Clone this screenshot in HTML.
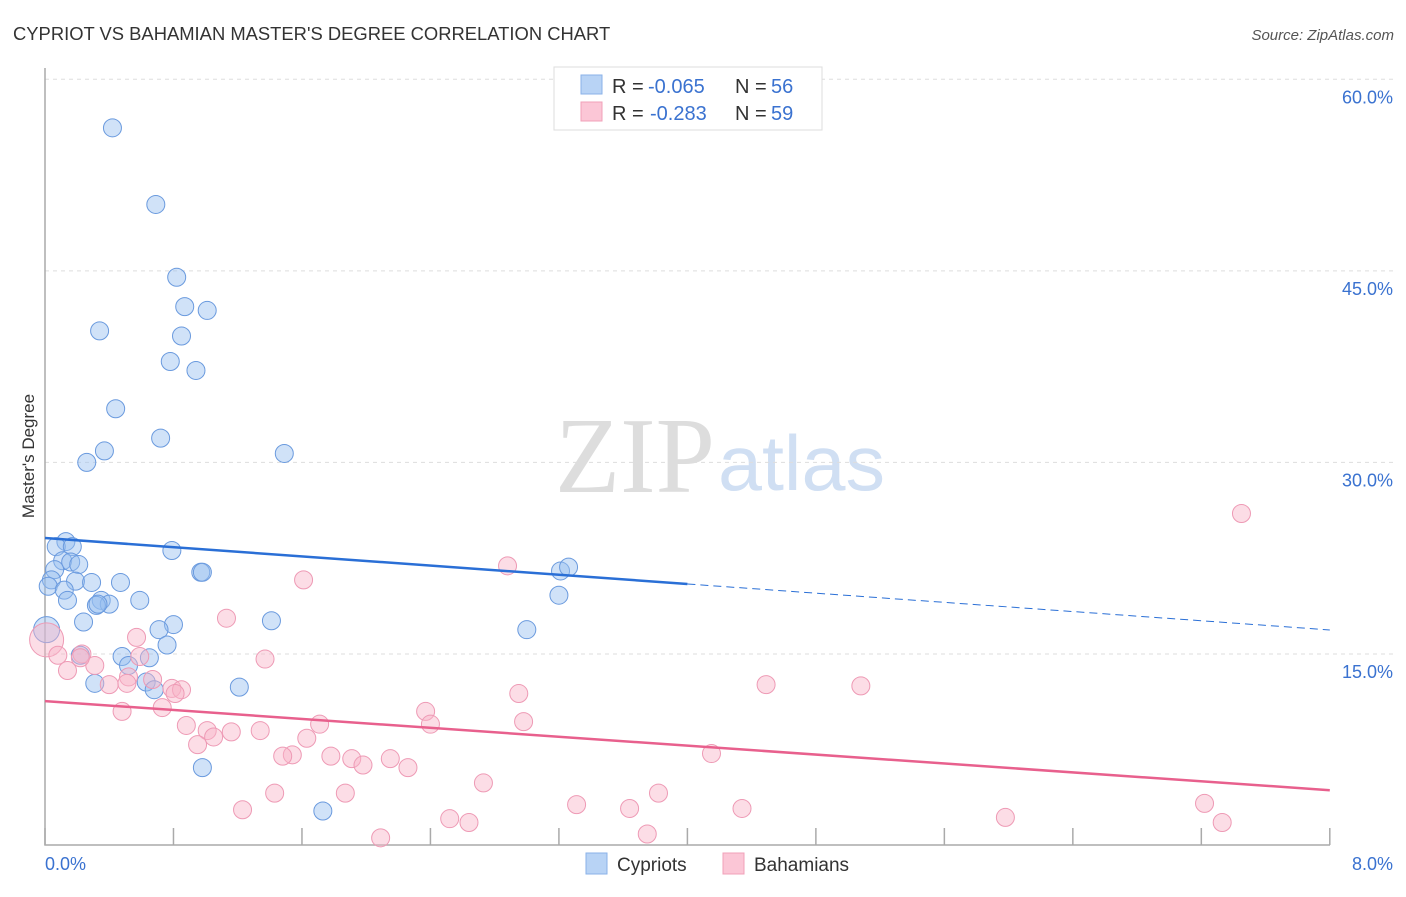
<!DOCTYPE html>
<html><head><meta charset="utf-8"><style>
body{margin:0;background:#fff;font-family:"Liberation Sans",sans-serif}
</style></head><body>
<svg id="c" width="1406" height="892" xmlns="http://www.w3.org/2000/svg">
<text x="13" y="40" font-size="18.4" fill="#333">CYPRIOT VS BAHAMIAN MASTER'S DEGREE CORRELATION CHART</text>
<text x="1394" y="40" font-size="15" fill="#555" font-style="italic" text-anchor="end">Source: ZipAtlas.com</text>
<text x="555" y="492" font-size="108" fill="#ddd" textLength="160" lengthAdjust="spacingAndGlyphs" font-family="Liberation Serif">ZIP</text>
<text x="718" y="490" font-size="78" fill="#d0dff3" textLength="167" lengthAdjust="spacingAndGlyphs">atlas</text>
<text transform="translate(34,456) rotate(-90)" font-size="17" fill="#333" text-anchor="middle">Master's Degree</text>
<g id="grid"></g><g id="pts"></g><g id="lines"></g>
<g>
<rect x="554" y="67" width="268" height="63" fill="#fff" stroke="#ddd"/>
<rect x="581" y="75" width="21" height="19" fill="#b8d3f5" stroke="#8ab2e8"/>
<rect x="581" y="102" width="21" height="19" fill="#fbc6d6" stroke="#f0a0b8"/>
<text x="612" y="93" font-size="20" fill="#333">R =</text>
<text x="648" y="93" font-size="20" fill="#3a72d0">-0.065</text>
<text x="735" y="93" font-size="20" fill="#333">N =</text>
<text x="771" y="93" font-size="20" fill="#3a72d0">56</text>
<text x="612" y="120" font-size="20" fill="#333">R =</text>
<text x="650" y="120" font-size="20" fill="#3a72d0">-0.283</text>
<text x="735" y="120" font-size="20" fill="#333">N =</text>
<text x="771" y="120" font-size="20" fill="#3a72d0">59</text>
</g>
<g>
<rect x="586" y="853" width="21" height="21" fill="#b8d3f5" stroke="#8ab2e8"/>
<text x="617" y="871" font-size="19" fill="#333">Cypriots</text>
<rect x="723" y="853" width="21" height="21" fill="#fbc6d6" stroke="#f0a0b8"/>
<text x="754" y="871" font-size="19" fill="#333">Bahamians</text>
</g>
</svg>
<script>
const xTicks=[0,0.8,1.6,2.4,3.2,4.0,4.8,5.6,6.4,7.2,8.0];
const yTicks=[15,30,45,60];
const yTickLabels=["15.0%","30.0%","45.0%","60.0%"];
const xAxisLabels=["0.0%","8.0%"];
const blueX=[.42,.69,.82,.87,1.01,.34,.85,.78,.94,.44,.72,.37,.26,1.49,.13,.07,.17,.79,.11,.16,.21,.06,.97,.98,.04,.19,.29,.47,.02,.12,.14,.35,.40,.32,.59,3.21,3.26,3.20,1.41,.01,.24,.80,.71,3.00,.76,.48,.65,.22,.52,.63,.31,.68,1.21,.98,1.73,.33];
const blueY=[56.2,50.2,44.5,42.2,41.9,40.3,39.9,37.9,37.2,34.2,31.9,30.9,30.0,30.7,23.8,23.4,23.4,23.1,22.3,22.2,22.0,21.6,21.4,21.4,20.8,20.7,20.6,20.6,20.3,20.0,19.2,19.2,18.9,18.8,19.2,21.5,21.8,19.6,17.6,16.9,17.5,17.3,16.9,16.9,15.7,14.8,14.7,14.9,14.1,12.8,12.7,12.2,12.4,6.1,2.7,18.9];
const pinkX=[7.45,2.88,1.61,1.13,.57,.01,.08,.23,.31,.14,1.37,4.49,5.08,2.95,.52,.67,.40,.79,.85,.48,.73,2.37,2.40,2.98,1.71,.88,1.01,1.16,1.05,1.34,1.63,.95,1.54,1.48,1.78,1.91,1.98,2.15,2.26,4.15,2.73,1.43,1.87,3.82,3.31,3.64,4.34,7.22,1.23,2.52,2.64,5.98,7.33,3.75,2.09,.51,.59,.81,.22];
const pinkY=[26.0,21.9,20.8,17.8,16.3,16.1,14.9,15.0,14.1,13.7,14.6,12.6,12.5,11.9,13.2,13.0,12.6,12.3,12.2,10.5,10.8,10.5,9.5,9.7,9.5,9.4,9.0,8.9,8.5,9.0,8.4,7.9,7.1,7.0,7.0,6.8,6.3,6.8,6.1,7.2,4.9,4.1,4.1,4.1,3.2,2.9,2.9,3.3,2.8,2.1,1.8,2.2,1.8,0.9,0.6,12.7,14.8,11.9,14.7];
const blueTrend=[24.08,16.88], blueSolidEnd=4.0;
const pinkTrend=[11.31,4.33];
const X=v=>45+v*160.6, Y=v=>845.5-v*12.77;
const NS="http://www.w3.org/2000/svg";
function mk(p,tag,at){const e=document.createElementNS(NS,tag);for(const k in at)e.setAttribute(k,at[k]);p.appendChild(e);return e;}
const grid=document.getElementById('grid');
yTicks.forEach((t,i)=>{
 const l=mk(grid,'line',{x1:45,x2:1395,y1:Y(t),y2:Y(t),stroke:'#ddd','stroke-dasharray':'4,4'});
 
 
 const tx=mk(grid,'text',{x:1393,y:Y(t)+24,'font-size':18,fill:'#3a72d0','text-anchor':'end'});
 tx.textContent=yTickLabels[i];
 
 
});
const ax=mk(grid,'path',{d:`M45,68V845H1330`,stroke:'#aaa',fill:'none','stroke-width':1.5});


xTicks.forEach(t=>{
 const l=mk(grid,'line',{x1:X(t),x2:X(t),y1:828,y2:845,stroke:'#aaa','stroke-width':1.5});
 
 
});
[[0,'start',45],[8,'end',1393]].forEach((d,i)=>{
 const tx=mk(grid,'text',{x:d[2],y:870,'font-size':18,fill:'#3a72d0','text-anchor':d[1]});
 tx.textContent=xAxisLabels[i];
 
 
});
const pts=document.getElementById('pts');
blueX.forEach((x,i)=>{
 const c=mk(pts,'circle',{cx:X(x),cy:Y(blueY[i]),r:x<0.02?13:9,fill:'rgba(150,190,240,0.45)',stroke:'#6a9ade','stroke-width':1});
 
 
});
pinkX.forEach((x,i)=>{
 const c=mk(pts,'circle',{cx:X(x),cy:Y(pinkY[i]),r:x<0.02?17:9,fill:'rgba(248,180,200,0.45)',stroke:'#ee9ab5','stroke-width':1});
 
 
});
const lines=document.getElementById('lines');
const bm=blueTrend[0]+(blueTrend[1]-blueTrend[0])*blueSolidEnd/8;
let l=mk(lines,'line',{x1:X(0),y1:Y(blueTrend[0]),x2:X(blueSolidEnd),y2:Y(bm),stroke:'#2a6fd6','stroke-width':2.5});


l=mk(lines,'line',{x1:X(blueSolidEnd),y1:Y(bm),x2:X(8),y2:Y(blueTrend[1]),stroke:'#2a6fd6','stroke-width':1,'stroke-dasharray':'8,5'});


l=mk(lines,'line',{x1:X(0),y1:Y(pinkTrend[0]),x2:X(8),y2:Y(pinkTrend[1]),stroke:'#e8608d','stroke-width':2.5});


</script>
</body></html>
